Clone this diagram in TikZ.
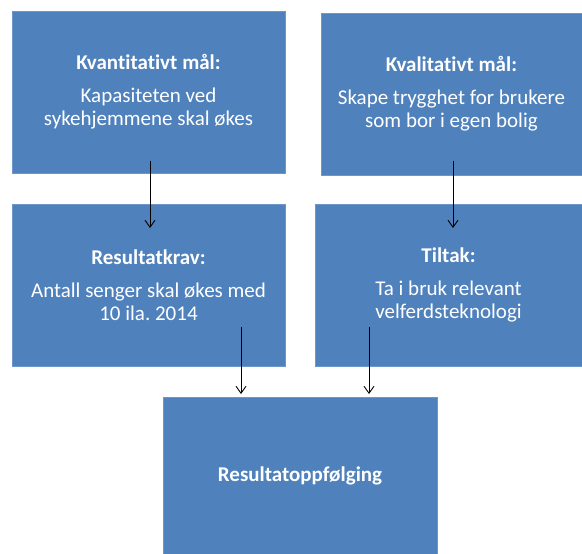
\documentclass[tikz,border=0pt]{standalone}
\usepackage{fontspec}
\setmainfont{Carlito}[Ligatures=NoCommon]
\usepackage{tikz}
\usetikzlibrary{positioning,arrows.meta,calc}
\usepackage{xcolor}
\definecolor{boxblue}{RGB}{79,129,189}
\definecolor{boxedge}{RGB}{110,150,200}

\tikzset{
  goalbox/.style={rectangle,draw=boxedge,line width=0.6pt,fill=boxblue,text=white,
    font=\fontsize{21}{23}\selectfont,align=center,inner sep=0pt},
  flowarrow/.style={-{Straight Barb[length=7pt,width=10pt]},line width=0.9pt,black}
}

\begin{document}
\frenchspacing
\begin{tikzpicture}[x=1pt,y=-1pt]
\useasboundingbox (0,0) rectangle (582,554);

% top row
\node[goalbox,minimum width=273pt,minimum height=162pt] (kvant) at (148.5,92)
  {\textbf{Kvantitativt mål:}\\[10pt]Kapasiteten ved\\sykehjemmene skal økes};
\node[goalbox,minimum width=261pt,minimum height=162pt] (kval) at (451.5,94)
  {\textbf{Kvalitativt mål:}\\[10pt]Skape trygghet for brukere\\som bor i egen bolig};

% middle row
\node[goalbox,minimum width=273pt,minimum height=162pt] (krav) at (148.5,285)
  {\textbf{Resultatkrav:}\\[10pt]Antall senger skal økes med\\10 ila.\ 2014};
\node[goalbox,minimum width=267pt,minimum height=162pt] (tiltak) at (448.5,285)
  {\textbf{Tiltak:}\\[10pt]Ta i bruk relevant\\velferdsteknologi};

% bottom
\node[goalbox,minimum width=274pt,minimum height=157pt] (oppf) at (300,475.5)
  {\textbf{Resultatoppfølging}};

% arrow ends
\coordinate (k1) at (150,161);
\coordinate (k2) at (150,228);
\coordinate (q1) at (453,161);
\coordinate (q2) at (453,228);
\coordinate (r1) at (241,327);
\coordinate (r2) at (241,394);
\coordinate (t1) at (369,327);
\coordinate (t2) at (369,394);

\draw[flowarrow] (k1) -- (k2);
\draw[flowarrow] (q1) -- (q2);
\draw[flowarrow] (r1) -- (r2);
\draw[flowarrow] (t1) -- (t2);
\end{tikzpicture}
\end{document}
